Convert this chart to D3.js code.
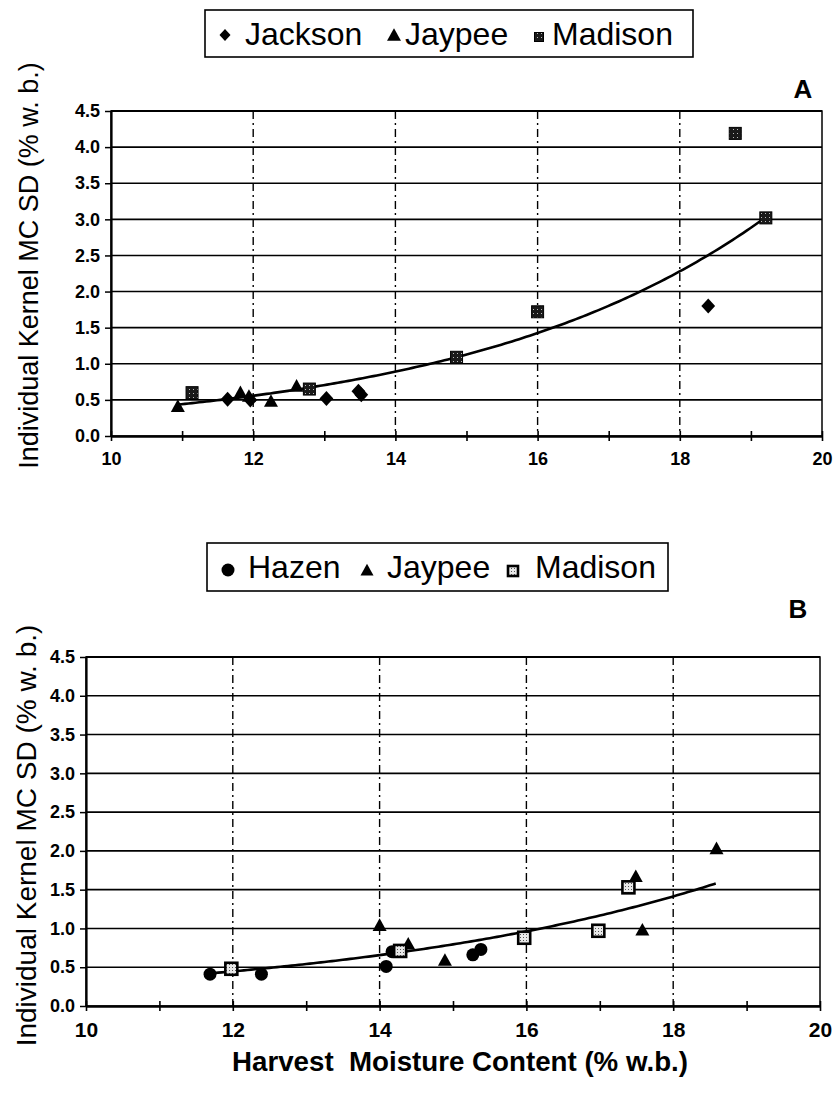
<!DOCTYPE html>
<html>
<head>
<meta charset="utf-8">
<script src="https://cdn.jsdelivr.net/npm/d3@7"></script>
<style>
  html, body { margin: 0; padding: 0; background: #fff; }
  svg { display: block; }
  text { fill: #000; }
</style>
</head>
<body>
<svg id="chart" width="838" height="1094"></svg>
<script>
// ---- Panel A: Jackson, Jaypee, Madison ----
const jacksonA = [[11.64, 0.51], [11.96, 0.50], [13.03, 0.52], [13.48, 0.62], [13.52, 0.57], [18.40, 1.80]];
const jaypeeA  = [[10.94, 0.40], [11.82, 0.59], [11.94, 0.54], [12.25, 0.47], [12.61, 0.68]];
const madisonA = [[11.14, 0.60], [12.79, 0.65], [14.86, 1.09], [16.00, 1.72], [18.78, 4.19], [19.21, 3.02]];
// exponential trend y = a·e^(b·x) and the x span it covers
const trendA = [0.0333, 0.2348];
const trendSpanA = [10.94, 19.21];

// ---- Panel B: Hazen, Jaypee, Madison ----
const hazenB   = [[11.69, 0.41], [12.39, 0.41], [14.09, 0.51], [14.17, 0.70], [15.27, 0.66], [15.38, 0.73]];
const jaypeeB  = [[14.00, 1.03], [14.39, 0.79], [14.89, 0.58], [17.49, 1.66], [17.58, 0.97], [18.59, 2.02]];
const madisonB = [[11.98, 0.48], [14.28, 0.71], [15.97, 0.88], [16.98, 0.97], [17.39, 1.53]];
const trendB = [0.0446, 0.192];
const trendSpanB = [11.70, 18.58];

// ---- axes ----
const xDomain = [10, 20];
const yDomain = [0, 4.5];
const xTickLabels = [10, 12, 14, 16, 18, 20];
const xMinorTicks = [10, 11, 12, 13, 14, 15, 16, 17, 18, 19, 20];
const xGridValues = [12, 14, 16, 18];
const yTickLabels = [0.0, 0.5, 1.0, 1.5, 2.0, 2.5, 3.0, 3.5, 4.0, 4.5];

const yTitle = "Individual Kernel MC SD (% w. b.)";
const xTitle = "Harvest  Moisture Content (% w.b.)";
const legendA = ["Jackson", "Jaypee", "Madison"];
const legendB = ["Hazen", "Jaypee", "Madison"];

const svg = d3.select("#chart");
svg.append("rect").attr("width", 838).attr("height", 1094).attr("fill", "#fff");

// speckled fills used by the Madison squares
const defs = svg.append("defs");
const pat = defs.append("pattern").attr("id", "speckDark")
  .attr("patternUnits", "userSpaceOnUse").attr("width", 4).attr("height", 4);
pat.append("rect").attr("width", 4).attr("height", 4).attr("fill", "#1a1a1a");
pat.append("rect").attr("x", 1).attr("y", 1).attr("width", 1).attr("height", 1).attr("fill", "#bbb");
const pat2 = defs.append("pattern").attr("id", "speckLight")
  .attr("patternUnits", "userSpaceOnUse").attr("width", 3).attr("height", 3);
pat2.append("rect").attr("width", 3).attr("height", 3).attr("fill", "#e8e8e8");
pat2.append("rect").attr("x", 1).attr("y", 1).attr("width", 1).attr("height", 1).attr("fill", "#555");

const FONT = "'Liberation Sans', Arial, Helvetica, sans-serif";
const NARROW = "'Liberation Sans Narrow', 'Arial Narrow', 'Liberation Sans', Arial, sans-serif";

function diamondPath(r) {
  return `M0,${-r}L${r * 0.92},0L0,${r}L${-r * 0.92},0Z`;
}

function drawMarker(g, kind, cx, cy, s, variant) {
  if (kind === "diamond") {
    g.append("path").attr("d", diamondPath(s / 2))
      .attr("transform", `translate(${cx},${cy})`).attr("fill", "#000");
  } else if (kind === "triangle") {
    const h = s * 0.9;
    g.append("path")
      .attr("d", `M0,${-h * 0.62}L${s / 2},${h * 0.38}L${-s / 2},${h * 0.38}Z`)
      .attr("transform", `translate(${cx},${cy})`).attr("fill", "#000");
  } else if (kind === "square") {
    if (variant === "light") {
      g.append("rect").attr("x", cx - s / 2).attr("y", cy - s / 2)
        .attr("width", s).attr("height", s)
        .attr("fill", "url(#speckLight)").attr("stroke", "#000").attr("stroke-width", 2.6);
    } else {
      g.append("rect").attr("x", cx - s / 2).attr("y", cy - s / 2)
        .attr("width", s).attr("height", s)
        .attr("fill", "url(#speckDark)").attr("stroke", "#000").attr("stroke-width", 1);
    }
  } else if (kind === "circle") {
    g.append("circle").attr("cx", cx).attr("cy", cy).attr("r", s / 2).attr("fill", "#000");
  }
}

function drawPanel(o) {
  const x = d3.scaleLinear().domain(xDomain).range([o.left, o.right]);
  const y = d3.scaleLinear().domain(yDomain).range([o.bottom, o.top]);
  const g = svg.append("g");

  // horizontal gridlines
  g.append("g").selectAll("line").data(yTickLabels.filter(v => v > 0 && v < 4.5)).join("line")
    .attr("x1", o.left).attr("x2", o.right)
    .attr("y1", d => y(d)).attr("y2", d => y(d))
    .attr("stroke", "#000").attr("stroke-width", 1.6);

  // vertical dash-dot gridlines
  g.append("g").selectAll("line").data(xGridValues).join("line")
    .attr("x1", d => x(d)).attr("x2", d => x(d))
    .attr("y1", o.top).attr("y2", o.bottom)
    .attr("stroke", "#000").attr("stroke-width", 1.4)
    .attr("stroke-dasharray", "8,4,2,4");

  // plot frame
  g.append("rect").attr("x", o.left).attr("y", o.top)
    .attr("width", o.right - o.left).attr("height", o.bottom - o.top)
    .attr("fill", "none").attr("stroke", "#000").attr("stroke-width", 1.5);
  g.append("line").attr("x1", o.left).attr("x2", o.right)
    .attr("y1", o.top).attr("y2", o.top).attr("stroke", "#000").attr("stroke-width", 2.2);

  // y axis
  const ya = d3.axisLeft(y).tickValues(yTickLabels).tickFormat(d3.format(".1f"))
    .tickSizeInner(6).tickSizeOuter(0).tickPadding(o.yPad);
  const yg = g.append("g").attr("transform", `translate(${o.left},0)`).call(ya);
  yg.select(".domain").attr("stroke-width", 2.2);
  yg.selectAll(".tick line").attr("stroke-width", 1.5);
  yg.selectAll("text").attr("font-family", FONT).attr("font-weight", "bold")
    .attr("font-size", o.tickFont).attr("fill", "#000");

  // x axis: minor ticks crossing the axis line
  const xa = d3.axisBottom(x).tickValues(xMinorTicks).tickFormat("").tickSizeInner(5).tickSizeOuter(0);
  const xg = g.append("g").attr("transform", `translate(0,${o.bottom})`).call(xa);
  xg.select(".domain").attr("stroke-width", 2.6);
  xg.selectAll(".tick line").attr("y1", -5).attr("y2", 5).attr("stroke-width", 1.6);

  // x tick labels
  const xl = d3.axisBottom(x).tickValues(xTickLabels).tickFormat(d3.format("d"))
    .tickSize(0).tickPadding(o.xPad);
  const xlg = g.append("g").attr("transform", `translate(0,${o.bottom})`).call(xl);
  xlg.select(".domain").remove();
  xlg.selectAll("text").attr("font-family", o.xFont).attr("font-weight", "bold")
    .attr("font-size", o.xTickFont).attr("fill", "#000");

  // y title
  g.append("text")
    .attr("transform", `translate(${o.yTitleX},${(o.top + o.bottom) / 2 + o.yTitleShift}) rotate(-90)`)
    .attr("text-anchor", "middle").attr("font-family", FONT).attr("font-size", o.yTitleFont)
    .text(yTitle);

  // trend line
  const line = d3.line().x(d => x(d)).y(d => y(o.trend[0] * Math.exp(o.trend[1] * d)));
  const xs = d3.range(o.span[0], o.span[1], 0.05).concat([o.span[1]]);
  g.append("path").attr("d", line(xs)).attr("fill", "none")
    .attr("stroke", "#000").attr("stroke-width", 2.6);

  // series markers
  o.series.forEach(s => {
    const sg = g.append("g");
    s.data.forEach(d => drawMarker(sg, s.kind, x(d[0]), y(d[1]), s.size, s.variant));
  });

  // legend box
  const lg = svg.append("g");
  lg.append("rect").attr("x", o.legend.x0).attr("y", o.legend.y0)
    .attr("width", o.legend.x1 - o.legend.x0).attr("height", o.legend.y1 - o.legend.y0)
    .attr("fill", "#fff").attr("stroke", "#000").attr("stroke-width", 1.6);
  o.legend.items.forEach((it, i) => {
    drawMarker(lg, o.series[i].kind, it.mx, it.my, it.ms, o.series[i].variant);
    lg.append("text").attr("x", it.tx).attr("y", o.legend.base)
      .attr("font-family", FONT).attr("font-size", o.legend.font).text(o.legend.labels[i]);
  });

  // panel letter
  svg.append("text").attr("x", o.letter.x).attr("y", o.letter.y)
    .attr("text-anchor", "middle").attr("font-family", FONT).attr("font-weight", "bold")
    .attr("font-size", o.letter.size).text(o.letter.text);
}

drawPanel({
  left: 111, right: 822, top: 111, bottom: 436,
  trend: trendA, span: trendSpanA,
  tickFont: 18, xTickFont: 18, xFont: FONT, yPad: 5, xPad: 16,
  yTitleX: 38, yTitleShift: -8, yTitleFont: 27,
  series: [
    { kind: "diamond", data: jacksonA, size: 15 },
    { kind: "triangle", data: jaypeeA, size: 14 },
    { kind: "square", data: madisonA, size: 12, variant: "dark" }
  ],
  legend: {
    x0: 205, x1: 693, y0: 10, y1: 57, base: 45, font: 32, labels: legendA,
    items: [
      { mx: 225, my: 35, ms: 12, tx: 245 },
      { mx: 394, my: 36, ms: 14, tx: 405 },
      { mx: 539, my: 37, ms: 9, tx: 552 }
    ]
  },
  letter: { x: 803, y: 98, size: 26, text: "A" }
});

drawPanel({
  left: 86, right: 820, top: 657, bottom: 1006,
  trend: trendB, span: trendSpanB,
  tickFont: 18, xTickFont: 21, xFont: NARROW, yPad: 5, xPad: 16,
  yTitleX: 36, yTitleShift: 4, yTitleFont: 28,
  series: [
    { kind: "circle", data: hazenB, size: 13 },
    { kind: "triangle", data: jaypeeB, size: 14 },
    { kind: "square", data: madisonB, size: 12, variant: "light" }
  ],
  legend: {
    x0: 207, x1: 668, y0: 543, y1: 591, base: 578, font: 32, labels: legendB,
    items: [
      { mx: 228, my: 570, ms: 13, tx: 248 },
      { mx: 367, my: 571, ms: 13, tx: 387 },
      { mx: 513, my: 571, ms: 10, tx: 535 }
    ]
  },
  letter: { x: 798, y: 618, size: 26, text: "B" }
});

// x title under panel B (bold condensed, double space kept)
svg.append("text").attr("x", 460).attr("y", 1071)
  .attr("text-anchor", "middle").attr("font-family", NARROW).attr("font-weight", "bold")
  .attr("font-size", 28).style("white-space", "pre")
  .attr("textLength", 456).attr("lengthAdjust", "spacingAndGlyphs")
  .text(xTitle);
</script>
</body>
</html>
